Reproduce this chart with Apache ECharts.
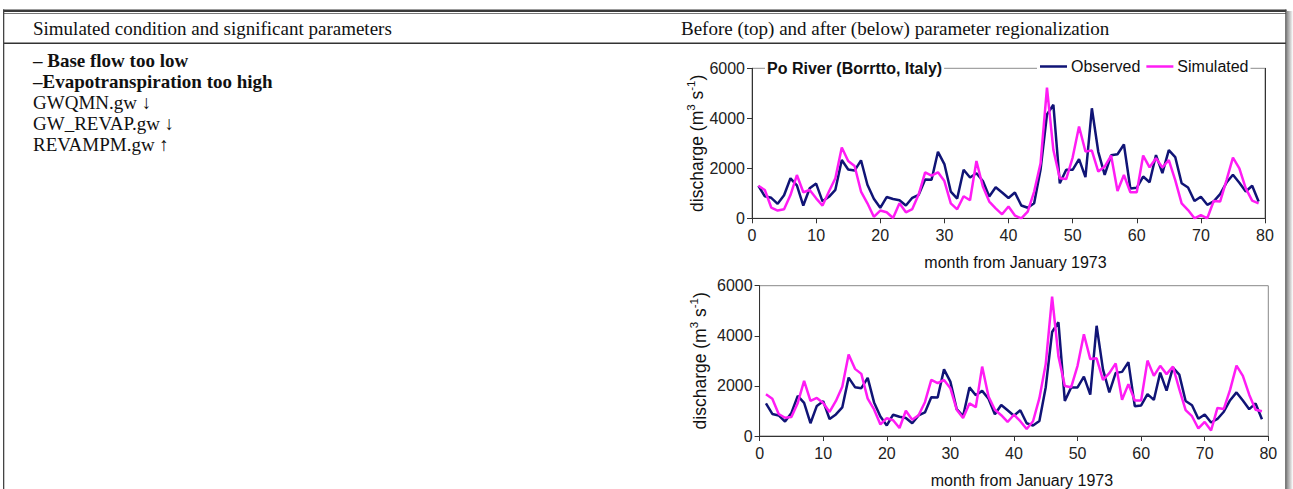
<!DOCTYPE html>
<html>
<head>
<meta charset="utf-8">
<script src="https://cdn.jsdelivr.net/npm/echarts@6/dist/echarts.min.js"></script>
<style>
html,body{margin:0;padding:0;background:#fff;}
#c{width:1293px;height:489px;}
</style>
</head>
<body>
<div id="c"></div>
<script>
// ---- data (months from January 1973) ----
const months = Array.from({length: 79}, (_, i) => i + 1);
const observed = [1300,880,820,580,920,1600,1320,510,1200,1390,680,860,1140,2330,1950,1910,2320,1340,780,420,
  850,770,720,510,820,940,1550,1540,2660,2170,1070,790,1940,1630,1800,1490,870,1240,1030,810,
  1030,510,420,600,1950,4150,4540,1400,1940,1940,2370,1650,4400,2660,1740,2520,2560,2950,1190,1220,
  1670,1440,2530,1810,2730,2450,1400,1230,690,860,540,680,970,1430,1740,1420,1070,1300,670];
const simulatedBefore = [1300,1130,430,310,360,930,1730,1040,1130,800,510,1070,1600,2830,2290,2090,1070,600,60,310,
  240,10,600,240,370,960,1840,1710,1840,1490,600,360,880,720,2290,1270,670,400,160,470,
  110,0,270,1070,2200,5230,2730,1600,1570,2430,3670,2670,2710,1870,2070,2510,1090,1730,1040,1040,
  2510,2040,2400,2030,2330,1530,600,330,0,130,0,690,670,1530,2430,2000,1200,710,600];
const simulatedAfter = [1670,1490,880,730,760,1320,2200,1400,1520,1320,960,1400,1970,3250,2680,2480,1490,1060,460,710,
  630,320,1010,650,830,1350,2240,2110,2240,1910,1050,720,1300,1150,2770,1580,1050,830,560,850,
  590,280,590,1510,2880,5560,3170,2000,1950,2800,4060,3070,3100,2240,2510,2900,1450,2070,1420,1420,
  3010,2400,2800,2470,2770,1870,1030,790,300,560,220,1120,1080,1850,2810,2400,1650,1050,990];
const xTicks = {min: 0, max: 80, interval: 10};
const yTicks = {min: 0, max: 6000, interval: 2000};
const headerLeft = 'Simulated condition and significant parameters';
const headerRight = 'Before (top) and after (below) parameter regionalization';
const conditionLines = ['– Base flow too low', '–Evapotranspiration too high'];
const paramLines = ['GWQMN.gw ↓', 'GW_REVAP.gw ↓', 'REVAMPM.gw ↑'];
const chartTitle = 'Po River (Borrtto, Italy)';
const xName = 'month from January 1973';

// ---- styles ----
const NAVY = '#101476';
const MAGENTA = '#ff1cf4';
const SANS = '"Liberation Sans", Arial, sans-serif';
const SERIF = '"Liberation Serif", "Times New Roman", serif';

const pair = arr => arr.map((v, i) => [months[i], v]);

const chart = echarts.init(document.getElementById('c'), null, {renderer: 'svg'});

function xAxisCfg(gridIndex, pad) {
  return {
    gridIndex, type: 'value', min: xTicks.min, max: xTicks.max, interval: xTicks.interval,
    name: xName, nameLocation: 'middle', nameGap: 36,
    nameTextStyle: {fontFamily: SANS, fontSize: 16, color: '#111', padding: [0, 0, 0, pad]},
    axisLine: {show: true, onZero: false, lineStyle: {color: '#333', width: 1}},
    axisTick: {show: true, inside: false, length: 5, lineStyle: {color: '#333'}},
    axisLabel: {fontFamily: SANS, fontSize: 16, color: '#222', margin: 9},
    splitLine: {show: false}
  };
}
function yAxisCfg(gridIndex, gap) {
  return {
    gridIndex, type: 'value', min: yTicks.min, max: yTicks.max, interval: yTicks.interval,
    name: '{n|discharge (m}{s|3}{n| s}{s|-1}{n|)}', nameLocation: 'middle', nameGap: gap, nameRotate: 90,
    nameTextStyle: {fontFamily: SANS, fontSize: 17.5, color: '#111', rich: {
      n: {fontFamily: SANS, fontSize: 17.5, color: '#111', lineHeight: 21, verticalAlign: 'bottom'},
      s: {fontFamily: SANS, fontSize: 11.5, color: '#111', lineHeight: 21, verticalAlign: 'top'}
    }},
    axisLine: {show: true, lineStyle: {color: '#333', width: 1}},
    axisTick: {show: true, inside: false, length: 5, lineStyle: {color: '#333'}},
    axisLabel: {fontFamily: SANS, fontSize: 16, color: '#222', margin: 7, formatter: v => String(v)},
    splitLine: {show: false}
  };
}

const lineSeries = (name, data, color, xi, yi) => ({
  name, type: 'line', data: pair(data), xAxisIndex: xi, yAxisIndex: yi,
  showSymbol: false, symbol: 'none', animation: false,
  lineStyle: {color, width: 2.5}, itemStyle: {color}
});

const FS = 19;
const graphics = [
  // table frame
  {type: 'rect', shape: {x: 3, y: 9.5, width: 1283, height: 2.5}, style: {fill: '#3a3a3a'}, silent: true},
  {type: 'rect', shape: {x: 3, y: 13, width: 1283, height: 1}, style: {fill: '#777'}, silent: true},
  {type: 'rect', shape: {x: 3, y: 42.5, width: 1283, height: 1.5}, style: {fill: '#333'}, silent: true},
  {type: 'rect', shape: {x: 3, y: 9.5, width: 1.3, height: 480}, style: {fill: '#444'}, silent: true},
  {type: 'rect', shape: {x: 1285.3, y: 9.5, width: 1.4, height: 480}, style: {fill: '#444'}, silent: true},
  {type: 'rect', shape: {x: 1286.7, y: 11, width: 6.3, height: 478}, silent: true,
    style: {fill: new echarts.graphic.LinearGradient(0, 0, 1, 0, [{offset: 0, color: '#8a8a8a'}, {offset: 1, color: '#ffffff'}])}},
  // header
  {type: 'text', x: 33, y: 28, silent: true, style: {text: headerLeft, font: FS + 'px ' + SERIF, fill: '#111', verticalAlign: 'middle'}},
  {type: 'text', x: 681, y: 28, silent: true, style: {text: headerRight, font: FS + 'px ' + SERIF, fill: '#111', verticalAlign: 'middle'}}
];
conditionLines.forEach((t, i) => graphics.push({type: 'text', x: 33, y: 60 + i * 21.2, silent: true,
  style: {text: t, font: 'bold ' + FS + 'px ' + SERIF, fill: '#111', verticalAlign: 'middle'}}));
paramLines.forEach((t, i) => graphics.push({type: 'text', x: 33, y: 102.4 + i * 21.2, silent: true,
  style: {text: t, font: FS + 'px ' + SERIF, fill: '#111', verticalAlign: 'middle'}}));

const option = {
  animation: false,
  backgroundColor: '#fff',
  title: {
    text: chartTitle, left: 765, top: 58.5, padding: [0, 2, 0, 2], backgroundColor: '#fff',
    textStyle: {fontFamily: SANS, fontSize: 16, fontWeight: 'bold', color: '#111', lineHeight: 19}
  },
  legend: {
    data: ['Observed', 'Simulated'], left: 1037, top: 58.5, padding: [0, 2, 0, 3], backgroundColor: '#fff',
    itemWidth: 27, itemHeight: 2.5, itemGap: 6, icon: 'rect', selectedMode: false,
    textStyle: {fontFamily: SANS, fontSize: 16, color: '#111', padding: [0, 0, 0, -1]}
  },
  grid: [
    {left: 752, right: 28, top: 68.3, bottom: 270.7, show: true, borderColor: '#8c8c8c', borderWidth: 1, backgroundColor: 'transparent'},
    {left: 759.6, right: 24.7, top: 285.7, bottom: 52.5, show: true, borderColor: '#888', borderWidth: 1, backgroundColor: 'transparent'}
  ],
  xAxis: [xAxisCfg(0, 14), xAxisCfg(1, 16)],
  yAxis: [yAxisCfg(0, 46), yAxisCfg(1, 51),
    {gridIndex: 0, type: 'value', position: 'right', min: yTicks.min, max: yTicks.max, interval: yTicks.interval,
     axisLine: {show: true, lineStyle: {color: '#333'}}, axisTick: {show: false}, axisLabel: {show: false}, splitLine: {show: false}}],
  series: [
    lineSeries('Observed', observed, NAVY, 0, 0),
    lineSeries('Simulated', simulatedBefore, MAGENTA, 0, 0),
    lineSeries('Observed', observed, NAVY, 1, 1),
    lineSeries('Simulated', simulatedAfter, MAGENTA, 1, 1)
  ],
  graphic: graphics
};
chart.setOption(option);
</script>
</body>
</html>
